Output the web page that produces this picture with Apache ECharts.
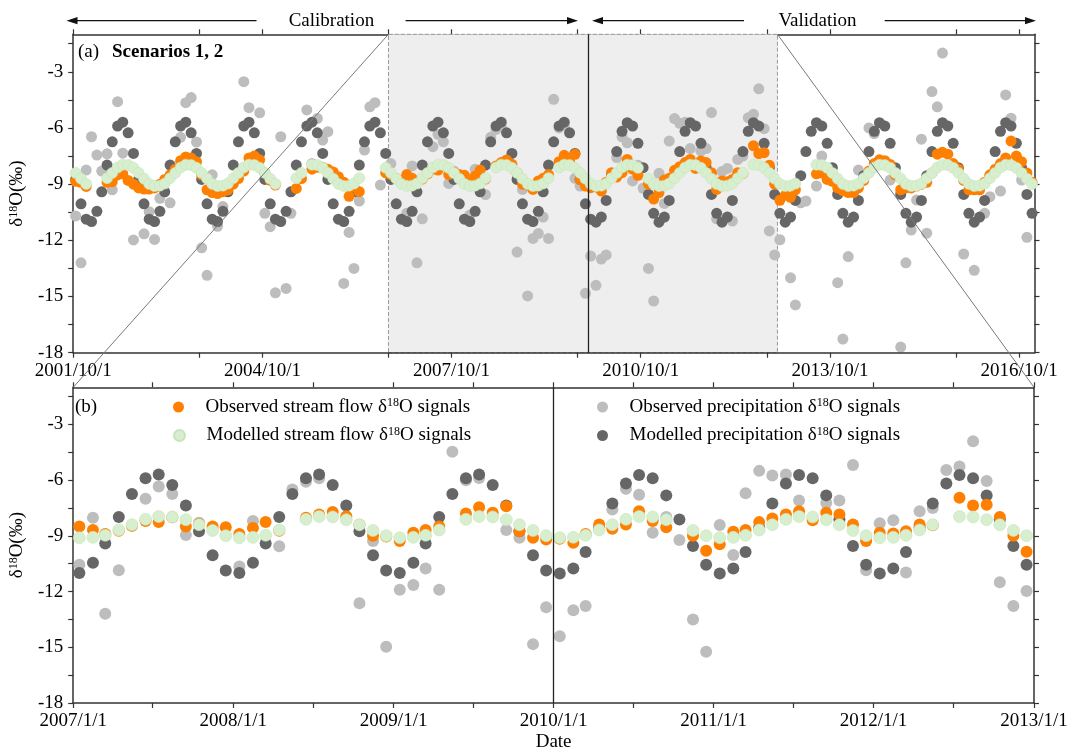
<!DOCTYPE html>
<html><head><meta charset="utf-8">
<script src="https://cdn.jsdelivr.net/npm/echarts@6/dist/echarts.min.js"></script>
<style>html,body{margin:0;padding:0;background:#fff}#c{width:1072px;height:753px}</style>
</head><body><div id="c"></div>
<script>
// Monthly series, first month 2001-10, last month 2016-12 (one row per year)
const firstYear = 2001, firstMonth = 10, monthCount = 183;

const obsStream = [
  -8.85, -8.9, -9.12,
  null, null, null, -8.9, -8.87, -8.51, -8.45, -8.8, -9.0, -9.2, -9.26, -9.26,
  -9.2, -9.0, -8.75, -8.5, -8.2, -7.75, -7.55, -7.6, -7.8, -8.5, -9.3, -9.45,
  -9.5, -9.4, -9.3, -9.0, -8.7, -8.3, -7.6, -7.5, -7.7, -8.4, -8.8, -9.05,
  null, null, null, -9.23, -8.7, null, -8.2, -8.1, -8.1, -8.2, -8.35, -8.6,
  -8.9, -9.65, -9.15, -9.4, null, null, null, null, -8.4, -8.5, -8.7, -8.8,
  -8.49, -8.69, -8.9, -8.73, -8.45, -8.2, -8.25, -8.0, -8.49, -8.36, -8.49, -8.53,
  -8.9, -8.57, -8.25, -8.73, null, -8.03, -7.85, -7.71, -7.94, -8.4, -9.0, -9.04,
  -9.28, -8.83, -8.69, -8.49, null, -7.8, -7.46, -7.76, -7.41, -8.75, -9.1, -9.19,
  -9.15, -9.37, -8.9, -8.39, -8.62, -8.39, -7.68, -8.2, -8.53, null, -9.0, -9.8,
  -9.45, -8.78, -8.69, -8.26, -8.07, -7.85, -7.68, -8.16, -7.76, -7.85, -8.39, -9.28,
  -8.83, -8.87, -8.75, -8.39, -8.43, null, -6.95, -7.37, -7.32, -7.99, -9.0, -9.86,
  -9.6, -9.7, -9.3, null, null, null, -8.45, -8.4, -8.75, -8.85, -9.2, -9.35,
  -9.45, -9.45, -9.2, -8.8, -8.3, -7.9, -7.7, -7.75, -7.95, -8.5, -9.3, -9.2,
  -9.2, -9.1, -9.0, -8.9, -8.4, -7.4, -7.3, -7.4, -7.9, -8.2, -8.8, -9.3,
  -9.3, -9.3, -8.9, -8.5, -8.2, -7.9, -7.6, -6.7, -7.5, -7.8, -8.4, -8.9
];

const modStream = [
  -8.4, -8.71, -8.99,
  null, null, null, -8.68, -8.4, -8.11, -7.96, -7.98, -8.13, -8.4, -8.71, -8.99,
  -9.1, -9.08, -8.97, -8.68, -8.4, -8.11, -7.96, -7.98, -8.13, -8.4, -8.71, -8.99,
  -9.1, -9.08, -8.97, -8.68, -8.4, -8.11, -7.96, -7.98, -8.13, -8.4, -8.71, -8.99,
  null, null, null, -8.68, -8.4, null, -7.96, -7.98, -8.13, -8.4, -8.71, -8.99,
  -9.1, -9.08, -8.97, -8.68, null, null, null, null, -8.13, -8.4, -8.71, -8.99,
  -9.1, -9.08, -8.97, -8.68, -8.4, -8.11, -7.96, -7.98, -8.13, -8.4, -8.71, -8.99,
  -9.1, -9.08, -8.97, -8.68, null, -8.11, -7.96, -7.98, -8.13, -8.4, -8.71, -8.99,
  -9.1, -9.08, -8.97, -8.68, null, -8.11, -7.96, -7.98, -8.13, -8.4, -8.71, -8.99,
  -9.1, -9.08, -8.97, -8.68, -8.4, -8.11, -7.96, -7.98, -8.13, null, -8.71, -8.99,
  -9.1, -9.08, -8.97, -8.68, -8.4, -8.11, -7.96, -7.98, -8.13, -8.4, -8.71, -8.99,
  -9.1, -9.08, -8.97, -8.68, -8.4, null, -7.96, -7.98, -8.13, -8.4, -8.71, -8.99,
  -9.1, -9.08, -8.97, null, null, null, -7.96, -7.98, -8.13, -8.4, -8.71, -8.99,
  -9.1, -9.08, -8.97, -8.68, -8.4, -8.11, -7.96, -7.98, -8.13, -8.4, -8.71, -8.99,
  -9.1, -9.08, -8.97, -8.68, -8.4, -8.11, -7.96, -7.98, -8.13, -8.4, -8.71, -8.99,
  -9.1, -9.08, -8.97, -8.68, -8.4, -8.11, -7.96, -7.98, -8.13, -8.4, -8.71, -8.99
];

const obsPrecip = [
  -10.7, -13.2, -8.25,
  -6.47, -7.45, -8.3, -7.38, -9.3, -4.6, -7.35, null, -11.98, null, -11.65, -10.47,
  -11.95, -9.76, null, -10.0, null, -6.5, -4.65, -4.38, -6.75, -12.4, -13.87, -8.5,
  -11.25, -10.2, null, null, null, -3.53, -4.92, null, -5.19, -10.56, -11.27, -14.8,
  -6.47, -14.57, -10.56, null, null, -5.04, -7.9, -5.49, -6.65, -6.2, null, null,
  -14.3, -11.58, -13.5, -9.9, -7.18, -4.87, -4.65, -9.05, null, -7.9, null, null,
  -10.55, -8.03, -13.2, -10.85, -8.45, -7.0, -6.34, -6.74, -8.96, -8.3, null, null,
  -10.65, -8.2, null, -9.56, -6.5, -6.08, -5.9, null, null, -12.63, -9.28, -14.97,
  -11.9, -11.64, -10.76, -11.9, -4.47, -6.0, -5.88, null, -8.69, -9.1, -14.83, -12.84,
  -14.4, -13.0, -12.78, null, -7.58, -6.47, -6.79, -8.83, -7.99, -9.22, -13.5, -15.24,
  -8.42, -10.03, -6.7, -5.5, -5.75, -5.7, -7.1, null, -7.23, -7.1, -5.18, -10.85,
  -8.32, -8.16, -10.97, -7.68, -7.5, -5.45, -5.27, -3.91, -6.04, -11.5, -12.78, -11.97,
  null, -14.0, -15.45, -10.0, -9.9, null, -9.1, -7.5, null, null, -14.26, -17.27,
  -12.87, null, -8.25, null, -6.0, -6.3, null, null, -8.78, null, -17.7, -13.2,
  -11.45, -9.85, -6.6, -11.62, -4.06, -4.87, -2.0, null, null, null, -12.73, null,
  -13.6, null, -10.56, -9.67, null, -9.37, -4.24, -5.48, null, -8.78, -11.84, null
];

const modPrecip = [
  -8.75, -10.05, -10.87,
  -11.0, -10.45, -9.41, -7.98, -6.74, -5.9, -5.69, -6.26, -7.36, -8.75, -10.05, -10.87,
  -11.0, -10.45, -9.41, -7.98, -6.74, -5.9, -5.69, -6.26, -7.36, -8.75, -10.05, -10.87,
  -11.0, -10.45, -9.41, -7.98, -6.74, -5.9, -5.69, -6.26, -7.36, -8.75, -10.05, -10.87,
  -11.0, -10.45, -9.41, -7.98, -6.74, -5.9, -5.69, -6.26, -7.36, -8.75, -10.05, -10.87,
  -11.0, -10.45, -9.41, -7.98, -6.74, -5.9, -5.69, -6.26, -7.36, -8.75, -10.05, -10.87,
  -11.0, -10.45, -9.41, -7.98, -6.74, -5.9, -5.69, -6.26, -7.36, -8.75, -10.05, -10.87,
  -11.0, -10.45, -9.41, -7.98, -6.74, -5.9, -5.69, -6.26, -7.36, -8.75, -10.05, -10.87,
  -11.0, -10.45, -9.41, -7.98, -6.74, -5.9, -5.69, -6.26, -7.36, -8.75, -10.05, -10.87,
  -11.03, -10.76, -9.87, -8.55, -7.26, -6.18, -5.72, -5.9, -6.82, -8.12, -9.55, -10.56,
  -11.03, -10.76, -9.87, -8.55, -7.26, -6.18, -5.72, -5.9, -6.82, -8.12, -9.55, -10.56,
  -11.03, -10.76, -9.87, -8.55, -7.26, -6.18, -5.72, -5.9, -6.82, -8.12, -9.55, -10.56,
  -11.03, -10.76, -9.87, -8.55, -7.26, -6.18, -5.72, -5.9, -6.82, -8.12, -9.55, -10.56,
  -11.03, -10.76, -9.87, -8.55, -7.26, -6.18, -5.72, -5.9, -6.82, -8.12, -9.55, -10.56,
  -11.03, -10.76, -9.87, -8.55, -7.26, -6.18, -5.72, -5.9, -6.82, -8.12, -9.55, -10.56,
  -11.03, -10.76, -9.87, -8.55, -7.26, -6.18, -5.72, -5.9, -6.82, -8.12, -9.55, -10.56
];

// Axis settings
const yTicks = [-18, -16.5, -15, -13.5, -12, -10.5, -9, -7.5, -6, -4.5, -3, -1.5];
const yLabels = [-18, -15, -12, -9, -6, -3];
const topLabelDates = [[2001,10,1],[2004,10,1],[2007,10,1],[2010,10,1],[2013,10,1],[2016,10,1]];
const topMinorDates = [[2003,10,1],[2006,10,1],[2009,10,1],[2012,10,1],[2015,10,1]];
const botLabelDates = [[2007,1,1],[2008,1,1],[2009,1,1],[2010,1,1],[2011,1,1],[2012,1,1],[2013,1,1]];
const botMinorDates = [[2007,7,1],[2008,7,1],[2009,7,1],[2010,7,1],[2011,7,1],[2012,7,1]];

const seriesNames = {
  obsS: 'Observed stream flow',
  modS: 'Modelled stream flow',
  obsP: 'Observed precipitation',
  modP: 'Modelled precipitation'
};

const U = (a) => Date.UTC(a[0], a[1] - 1, a[2]);
const dates = [];
for (let i = 0; i < monthCount; i++) dates.push(Date.UTC(firstYear, firstMonth - 1 + i, 15));
const pairs = (vals, lo, hi) => {
  const out = [];
  vals.forEach((v, i) => { if (v !== null && dates[i] >= lo && dates[i] <= hi) out.push([dates[i], v]); });
  return out;
};

const aMin = U([2001,10,1]), aMax = U([2016,12,29]);
const bMin = U([2007,1,1]), bMax = U([2013,1,1]);
const shadeStart = U([2006,10,1]), shadeEnd = U([2012,12,1]);
const splitDateA = U([2009,12,1]);
const splitDateB = U([2010,1,1]);
const yMin = -18, yMax = -1;

const FONT = '"Liberation Serif", "Times New Roman", serif';
const AX = '#333';
const fmtDate = (v) => { const d = new Date(v); return d.getUTCFullYear() + '/' + (d.getUTCMonth() + 1) + '/' + d.getUTCDate(); };

const COLORS = { obsP: '#BDBDBD', modP: '#666666', obsS: '#FF8000', modS: '#D8EFCF' };

function xAx(grid, pos, min, max, labels, minors, showLabels, extra) {
  return Object.assign({
    type: 'value', gridIndex: grid, position: pos, min: min, max: max,
    axisLine: { show: true, onZero: false, lineStyle: { color: AX, width: 1.5 } },
    axisTick: { show: true, length: 5, lineStyle: { color: AX, width: 1.2 },
      customValues: labels.concat(minors).map(U) },
    axisLabel: { show: showLabels, customValues: labels.map(U), formatter: fmtDate,
      fontFamily: FONT, fontSize: 19, color: '#000', margin: 9 },
    splitLine: { show: false }
  }, extra || {});
}
function yAx(grid, pos, showLabels, extra) {
  return Object.assign({
    type: 'value', gridIndex: grid, position: pos, min: yMin, max: yMax,
    axisLine: { show: true, onZero: false, lineStyle: { color: AX, width: 1.5 } },
    axisTick: { show: true, length: 5, lineStyle: { color: AX, width: 1.2 }, customValues: yTicks },
    axisLabel: { show: showLabels, customValues: yLabels, fontFamily: FONT, fontSize: 19, color: '#000', margin: 10 },
    splitLine: { show: false }
  }, extra || {});
}
const yName = {
  name: 'δ{s|18}O(‰)', nameLocation: 'middle', nameRotate: 90, nameGap: 30,
  nameTextStyle: { fontFamily: FONT, fontSize: 19, color: '#000', rich: { s: { fontFamily: FONT, fontSize: 12, verticalAlign: 'top', color: '#000' } } }
};

function scat(key, name, xi, yi, lo, hi, size, extra) {
  const vals = { obsS: obsStream, modS: modStream, obsP: obsPrecip, modP: modPrecip }[key];
  const style = { color: COLORS[key], opacity: 1 };
  if (key === 'modS') { style.borderColor = '#C6E4BC'; style.borderWidth = 0.6; }
  return Object.assign({
    type: 'scatter', name: name, xAxisIndex: xi, yAxisIndex: yi,
    symbol: 'circle', symbolSize: size, itemStyle: style,
    emphasis: { disabled: true },
    data: pairs(vals, lo, hi), animation: false, clip: true
  }, extra || {});
}

const legendRich = { s: { fontFamily: FONT, fontSize: 12, verticalAlign: 'top', color: '#000' } };
function leg(name, left, top) {
  return {
    data: [name], left: left, top: top, orient: 'vertical', icon: 'circle',
    itemWidth: 44, itemHeight: 11, itemGap: 0, padding: 0, selectedMode: false,
    itemStyle: { opacity: 1 },
    formatter: (n) => n + ' δ{s|18}O signals',
    textStyle: { fontFamily: FONT, fontSize: 19, color: '#000', lineHeight: 20, rich: legendRich }
  };
}

const option = {
  animation: false,
  backgroundColor: '#fff',
  grid: [
    { left: 68.5, right: 37.5, top: 34.3, height: 318.4 },
    { left: 68.5, right: 38, top: 387.3, height: 319.4 }
  ],
  xAxis: [
    xAx(0, 'bottom', aMin, aMax, topLabelDates, topMinorDates, true, { z: 3 }),
    xAx(0, 'top', aMin, aMax, topLabelDates, topMinorDates, false),
    xAx(1, 'bottom', bMin, bMax, botLabelDates, botMinorDates, true,
      { name: 'Date', nameLocation: 'middle', nameGap: 30, nameTextStyle: { fontFamily: FONT, fontSize: 19, color: '#000' } }),
    xAx(1, 'top', bMin, bMax, botLabelDates, botMinorDates, false)
  ],
  yAxis: [
    yAx(0, 'left', true, yName),
    yAx(0, 'right', false),
    yAx(1, 'left', true, yName),
    yAx(1, 'right', false)
  ],
  legend: [
    leg(seriesNames.obsS, 173, 397),
    leg(seriesNames.modS, 173, 425.5),
    leg(seriesNames.obsP, 597, 397),
    leg(seriesNames.modP, 597, 425.5)
  ],
  series: [
    scat('obsP', seriesNames.obsP, 0, 0, aMin, aMax, 11, {
      markArea: { silent: true, z: 1,
        itemStyle: { color: '#EEEEEE', borderColor: '#999', borderWidth: 1, borderType: 'dashed' },
        data: [[{ xAxis: shadeStart, yAxis: yMin }, { xAxis: shadeEnd, yAxis: yMax }]] },
      markLine: { silent: true, symbol: 'none', label: { show: false },
        lineStyle: { color: '#222', width: 1.3, type: 'solid' },
        data: [{ xAxis: splitDateA }] }
    }),
    scat('modP', seriesNames.modP, 0, 0, aMin, aMax, 11),
    scat('obsS', seriesNames.obsS, 0, 0, aMin, aMax, 11),
    scat('modS', seriesNames.modS, 0, 0, aMin, aMax, 11),
    scat('obsP', seriesNames.obsP, 2, 2, bMin, bMax, 12, {
      markLine: { silent: true, symbol: 'none', label: { show: false },
        lineStyle: { color: '#222', width: 1.3, type: 'solid' },
        data: [{ xAxis: splitDateB }] }
    }),
    scat('modP', seriesNames.modP, 2, 2, bMin, bMax, 12),
    scat('obsS', seriesNames.obsS, 2, 2, bMin, bMax, 12),
    scat('modS', seriesNames.modS, 2, 2, bMin, bMax, 12)
  ]
};

const chart = echarts.init(document.getElementById('c'), null, { renderer: 'canvas' });
chart.setOption(option);

// annotations positioned through the chart's own scales
const pA1 = chart.convertToPixel({ xAxisIndex: 0, yAxisIndex: 0 }, [shadeStart, yMax]);
const pA2 = chart.convertToPixel({ xAxisIndex: 0, yAxisIndex: 0 }, [shadeEnd, yMax]);
const pB1 = chart.convertToPixel({ xAxisIndex: 2, yAxisIndex: 2 }, [bMin, yMax]);
const pB2 = chart.convertToPixel({ xAxisIndex: 2, yAxisIndex: 2 }, [bMax, yMax]);

const arrowY = 20.7;
function arrow(id, from, tip) {
  const dir = tip > from ? 1 : -1;
  return {
    type: 'group', id: id, z: 100, children: [
      { type: 'line', shape: { x1: from, y1: arrowY, x2: tip - dir * 8, y2: arrowY }, style: { stroke: '#111', lineWidth: 1.3 } },
      { type: 'polygon', shape: { points: [[tip, arrowY], [tip - dir * 11, arrowY - 3.6], [tip - dir * 11, arrowY + 3.6]] }, style: { fill: '#111' } }
    ]
  };
}
const txt = (id, text, x, y, align, weight) => ({
  type: 'text', id: id, x: x, y: y, z: 100,
  style: { text: text, fontFamily: FONT, fontSize: 19, fontWeight: weight || 'normal', fill: '#000', align: align, verticalAlign: 'middle' }
});

chart.setOption({
  graphic: [
    { type: 'line', id: 'conL', z: 90, shape: { x1: pA1[0], y1: pA1[1], x2: pB1[0], y2: pB1[1] }, style: { stroke: '#7a7a7a', lineWidth: 1 } },
    { type: 'line', id: 'conR', z: 90, shape: { x1: pA2[0], y1: pA2[1], x2: pB2[0], y2: pB2[1] }, style: { stroke: '#7a7a7a', lineWidth: 1 } },
    arrow('a1', 256.5, 66.5),
    arrow('a2', 405.6, 578),
    arrow('a3', 744, 592),
    arrow('a4', 884.7, 1036),
    txt('tCal', 'Calibration', 331.4, arrowY, 'center'),
    txt('tVal', 'Validation', 817.5, arrowY, 'center'),
    txt('ta', '(a)', 78, 52.5, 'left'),
    txt('tsc', 'Scenarios 1, 2', 112, 52.5, 'left', 'bold'),
    txt('tb', '(b)', 75, 406.7, 'left')
  ]
});
</script>
</body></html>
